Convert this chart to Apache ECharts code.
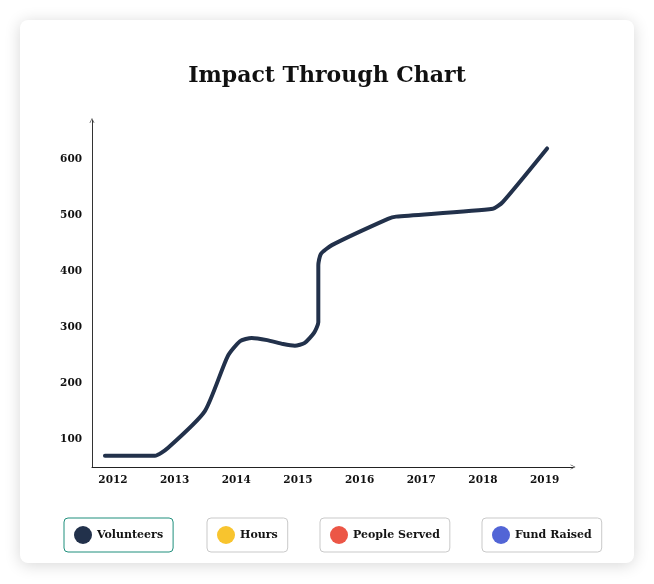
<!DOCTYPE html>
<html>
<head>
<meta charset="utf-8">
<script src="https://cdn.jsdelivr.net/npm/echarts@6/dist/echarts.min.js"></script>
<style>
  html, body { margin: 0; padding: 0; background: #ffffff; }
  #card { position: absolute; left: 20px; top: 20px; width: 614px; height: 543px; background: #fff; border-radius: 8px; box-shadow: 0 2px 16px rgba(0,0,0,0.16); }
  #chart { position: absolute; left: 0; top: 0; width: 654px; height: 584px; }
</style>
</head>
<body>
<div id="card"></div>
<div id="chart"></div>
<script>
// Tick labels (years) and y-axis labels
const years = [2012, 2013, 2014, 2015, 2016, 2017, 2018, 2019];
const yTicks = [100, 200, 300, 400, 500, 600];

// Volunteers line (x = position in years, y = value)
const volX = [2011.87, 2012.68, 2012.89, 2013.49, 2013.86, 2014.06, 2014.25, 2014.50, 2014.76, 2014.95, 2015.11, 2015.26, 2015.33, 2015.33, 2015.37, 2015.55, 2016.46, 2016.59, 2018.16, 2018.32, 2019.04];
const volY = [70, 70, 84, 150, 248, 275, 281, 277, 270, 267, 272, 290, 309, 411, 431, 447, 494, 498, 512, 524, 620];

// Legend entries
const seriesNames = ['Volunteers', 'Hours', 'People Served', 'Fund Raised'];
const seriesColors = ['#22314b', '#f8c42e', '#ec5646', '#5265d6'];

const FONT = 'DejaVu Serif';
const chevron = 'path://M0,10 L5,0 L10,10 L8.8,10 L5,2.4 L1.2,10 Z';

const chart = echarts.init(document.getElementById('chart'), null, { renderer: 'canvas' });

const legendLefts = [64, 207, 320, 482];
const legends = seriesNames.map((n, i) => ({
  data: [n],
  left: legendLefts[i],
  top: 518,
  orient: 'horizontal',
  icon: 'circle',
  itemWidth: 18,
  itemHeight: 18,
  padding: [8, 10, 8, 10],
  borderWidth: 1,
  borderRadius: 4,
  borderColor: i === 0 ? '#1f8f7c' : '#c9c9c9',
  selectedMode: false,
  textStyle: { fontFamily: FONT, fontWeight: 'bold', fontSize: 11, color: '#141414' }
}));

const series = seriesNames.map((n, i) => {
  const s = {
    name: n,
    type: 'line',
    color: seriesColors[i],
    itemStyle: { color: seriesColors[i] },
    lineStyle: { color: seriesColors[i], width: 4, cap: 'round', join: 'round' },
    showSymbol: false,
    symbol: 'none',
    data: []
  };
  if (i === 0) {
    s.data = volX.map((x, k) => [x, volY[k]]);
    s.smooth = 0.2;
  }
  return s;
});

chart.setOption({
  animation: false,
  backgroundColor: 'transparent',
  title: {
    text: 'Impact Through Chart',
    left: 'center',
    top: 61,
    padding: 0,
    textStyle: { fontFamily: FONT, fontWeight: 'bold', fontSize: 22, color: '#111', lineHeight: 30 }
  },
  legend: legends,
  grid: { left: 92, right: 81, top: 120.5, bottom: 117, containLabel: false },
  xAxis: {
    type: 'value',
    min: 2011.66,
    max: 2019.46,
    splitNumber: 8,
    splitLine: { show: false },
    axisTick: { show: false },
    axisLine: { show: true, lineStyle: { color: '#222', width: 1 }, symbol: ['none', chevron], symbolSize: [9, 5] },
    axisLabel: {
      showMinLabel: false, showMaxLabel: false, margin: 8,
      fontFamily: FONT, fontWeight: 'bold', fontSize: 10.5, color: '#111',
      formatter: v => years.indexOf(Math.round(v)) >= 0 && Math.abs(v - Math.round(v)) < 1e-6 ? String(Math.round(v)) : ''
    }
  },
  yAxis: {
    type: 'value',
    min: 50,
    max: 670,
    interval: 50,
    splitLine: { show: false },
    axisTick: { show: false },
    axisLine: { show: true, lineStyle: { color: '#333', width: 1 }, symbol: ['none', chevron], symbolSize: [9, 5] },
    axisLabel: {
      showMinLabel: false, showMaxLabel: false, margin: 10,
      fontFamily: FONT, fontWeight: 'bold', fontSize: 10.5, color: '#111',
      formatter: v => yTicks.indexOf(Math.round(v)) >= 0 ? String(Math.round(v)) : ''
    }
  },
  series: series
});
</script>
</body>
</html>
